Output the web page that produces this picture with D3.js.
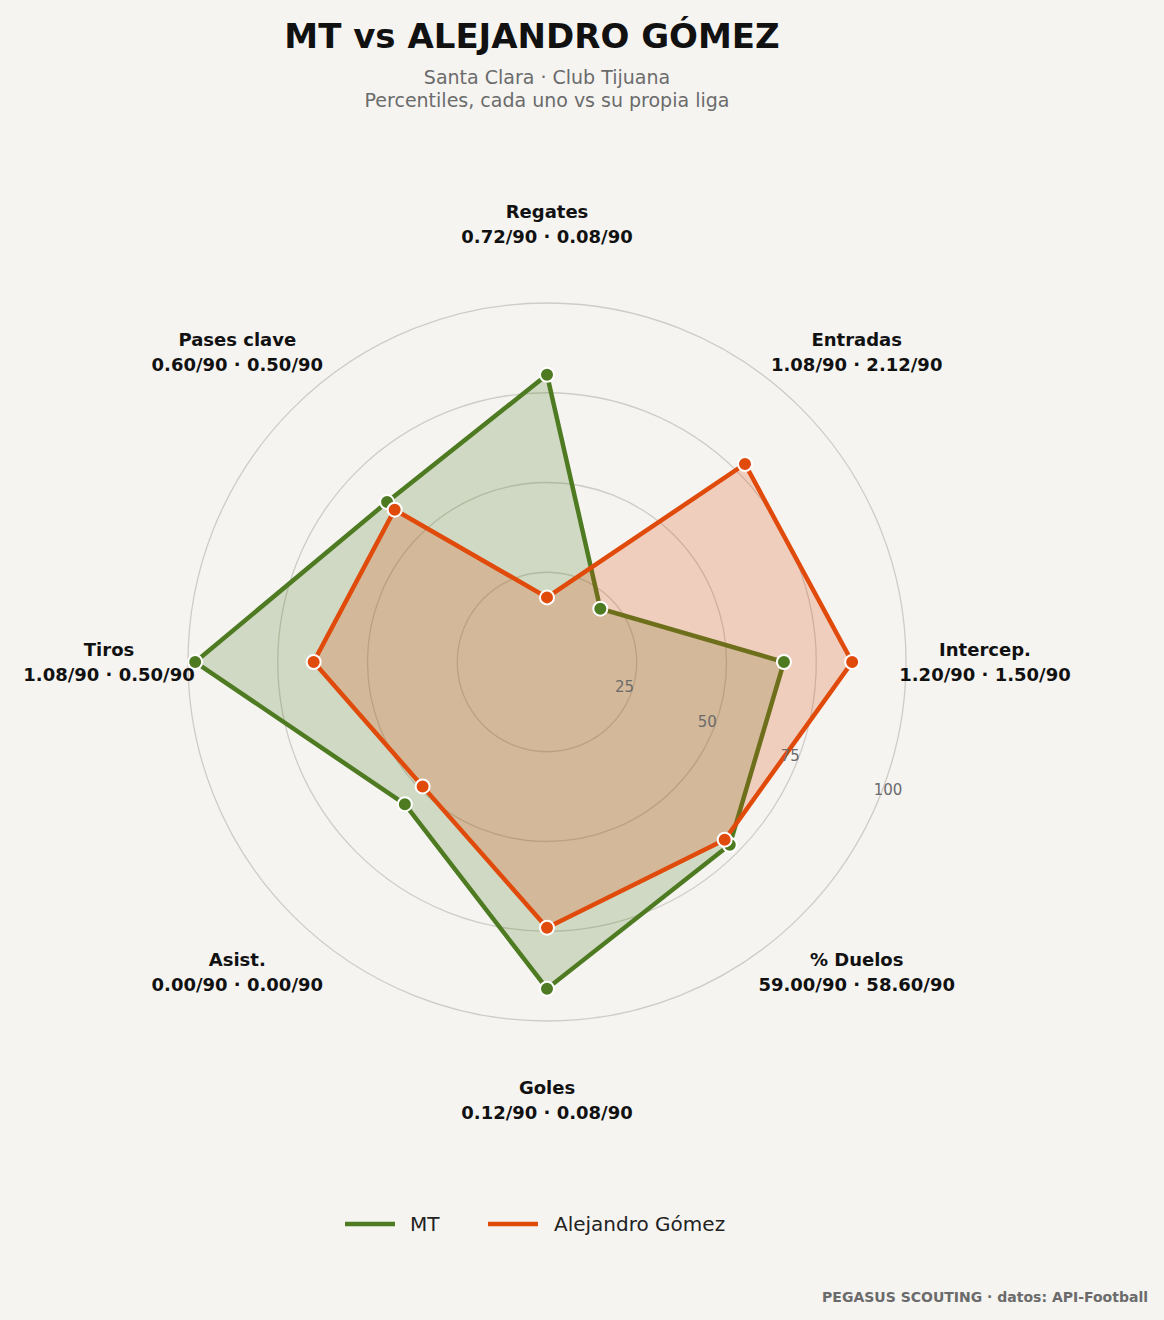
<!DOCTYPE html>
<html><head><meta charset="utf-8">
<script src="https://cdn.jsdelivr.net/npm/d3@7"></script>
<style>body{margin:0;background:#f5f4f1}svg{display:block;font-family:"DejaVu Sans",sans-serif}</style>
</head><body><svg id="c" width="1164" height="1320"></svg>
<script>
const axes = ["Regates","Entradas","Intercep.","% Duelos","Goles","Asist.","Tiros","Pases clave"];
const statLines = ["0.72/90 · 0.08/90","1.08/90 · 2.12/90","1.20/90 · 1.50/90","59.00/90 · 58.60/90","0.12/90 · 0.08/90","0.00/90 · 0.00/90","1.08/90 · 0.50/90","0.60/90 · 0.50/90"];
const mtValues = [80,21,66,72,91,56,98,63];
const agValues = [18,78,85,70,74,49,65,60];
const ticks = [25,50,75,100];
const seriesNames = ["MT","Alejandro Gómez"];
const colors = ["#4e7a21","#e04a0a"];

const svg = d3.select("#c");
svg.append("rect").attr("width",1164).attr("height",1320).attr("fill","#f5f4f1");
const cx=547, cy=662;
const r = d3.scaleLinear().domain([0,100]).range([0,359]);
const ang = d3.scaleLinear().domain([0,axes.length]).range([0,2*Math.PI]);
const pt=(i,v)=>[cx+r(v)*Math.sin(ang(i)), cy-r(v)*Math.cos(ang(i))];

svg.append("text").attr("x",532).attr("y",48).attr("text-anchor","middle").attr("font-size",34).attr("font-weight","bold").attr("fill","#111").text("MT  vs  ALEJANDRO GÓMEZ");
svg.append("text").attr("x",547).attr("y",84).attr("text-anchor","middle").attr("font-size",19).attr("fill","#6b6b6b").text("Santa Clara · Club Tijuana");
svg.append("text").attr("x",547).attr("y",107).attr("text-anchor","middle").attr("font-size",19).attr("fill","#6b6b6b").text("Percentiles, cada uno vs su propia liga");

const g=svg.append("g");
ticks.forEach(t=>{
  g.append("circle").attr("cx",cx).attr("cy",cy).attr("r",r(t)).attr("fill","none").attr("stroke","#cfccc6").attr("stroke-width",1.3);
});

[mtValues,agValues].forEach((vals,k)=>{
  const pts=vals.map((v,i)=>pt(i,v));
  g.append("path").attr("d",d3.line().curve(d3.curveLinearClosed)(pts))
   .attr("fill",colors[k]).attr("fill-opacity",0.22).attr("stroke",colors[k]).attr("stroke-width",4.5).attr("stroke-linejoin","miter");
});
[mtValues,agValues].forEach((vals,k)=>{
  vals.forEach((v,i)=>{const p=pt(i,v);
    g.append("circle").attr("cx",p[0]).attr("cy",p[1]).attr("r",7).attr("fill",colors[k]).attr("stroke","#fff").attr("stroke-width",2);});
});

ticks.forEach(t=>{
  const a=Math.PI/8;
  g.append("text").attr("x",cx+r(t)*Math.cos(a)-15+ (t===100?10:0)).attr("y",cy+r(t)*Math.sin(a)-4).attr("font-size",15).attr("fill","#6b6b6b").text(t);
});

axes.forEach((a,i)=>{
  const p=pt(i,122);
  const t=g.append("text").attr("text-anchor","middle").attr("font-size",18).attr("font-weight","bold").attr("fill","#111");
  t.append("tspan").attr("x",p[0]).attr("y",p[1]-6).text(a);
  t.append("tspan").attr("x",p[0]).attr("y",p[1]+19).text(statLines[i]);
});

const leg=[{x:345,tx:410},{x:488,tx:554}];
seriesNames.forEach((n,k)=>{
  svg.append("line").attr("x1",leg[k].x).attr("x2",leg[k].x+50).attr("y1",1224).attr("y2",1224).attr("stroke",colors[k]).attr("stroke-width",4.5);
  svg.append("text").attr("x",leg[k].tx).attr("y",1231).attr("font-size",20).attr("fill","#222").text(n);
});
svg.append("text").attr("x",1148).attr("y",1302).attr("text-anchor","end").attr("font-size",14).attr("font-weight","bold").attr("fill","#6b6b6b").text("PEGASUS SCOUTING · datos: API-Football");
</script></body></html>
